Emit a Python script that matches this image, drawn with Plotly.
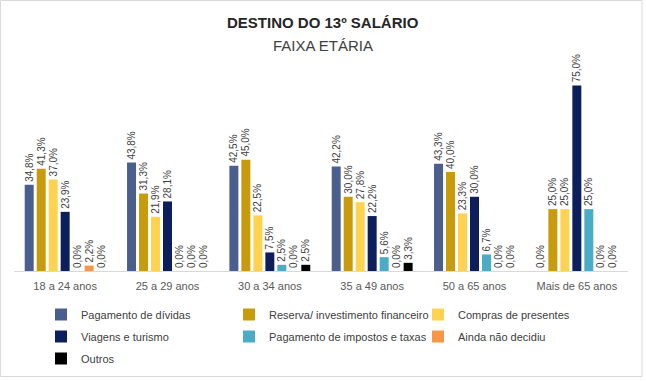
import plotly.graph_objects as go

categories = ["18 a 24 anos", "25 a 29 anos", "30 a 34 anos", "35 a 49 anos", "50 a 65 anos", "Mais de 65 anos"]
series_names = ["Pagamento de dívidas", "Reserva/ investimento financeiro", "Compras de presentes",
                "Viagens e turismo", "Pagamento de impostos e taxas", "Ainda não decidiu", "Outros"]
pagamento_dividas = [34.8, 43.8, 42.5, 42.2, 43.3, 0.0]
reserva_investimento = [41.3, 31.3, 45.0, 30.0, 40.0, 25.0]
compras_presentes = [37.0, 21.9, 22.5, 27.8, 23.3, 25.0]
viagens_turismo = [23.9, 28.1, 7.5, 22.2, 30.0, 75.0]
impostos_taxas = [0.0, 0.0, 2.5, 5.6, 6.7, 25.0]
ainda_nao_decidiu = [2.2, 0.0, 0.0, 0.0, 0.0, 0.0]
outros = [0.0, 0.0, 2.5, 3.3, 0.0, 0.0]

series_values = [pagamento_dividas, reserva_investimento, compras_presentes, viagens_turismo,
                 impostos_taxas, ainda_nao_decidiu, outros]
colors = ["#4B5F8E", "#C89B0C", "#FFD34F", "#0C1E5B", "#4BACC6", "#F79646", "#000000"]
legend_ids = ["legend", "legend2", "legend3", "legend", "legend2", "legend3", "legend"]

FONT = "Liberation Sans, Arial, sans-serif"
W, H = 646, 381
ML, MR, MT, MB = 14, 18, 73, 110
PW, PH = W - ML - MR, H - MT - MB

def px_x(x):
    return (x - ML) / PW

def px_y(y):
    return (H - MB - y) / PH

fig = go.Figure()
for i, (name, vals) in enumerate(zip(series_names, series_values)):
    fig.add_trace(go.Bar(
        x=categories, y=vals, name=name,
        marker=dict(color=colors[i], line=dict(width=0)),
        text=[f"{v:.1f}%".replace(".", ",") for v in vals],
        textposition="outside", textangle=-90, constraintext="none",
        textfont=dict(family=FONT, size=10, color="#404040"),
        cliponaxis=False, legend=legend_ids[i], legendgroup=name,
        hoverinfo="skip",
    ))

def lg(xpx):
    return dict(x=px_x(xpx), xref="paper", y=px_y(300), yref="paper",
                xanchor="left", yanchor="top", orientation="v",
                font=dict(family=FONT, size=11, color="#404040"),
                bgcolor="rgba(0,0,0,0)", borderwidth=0, itemwidth=30,
                tracegroupgap=3, traceorder="grouped")

fig.update_layout(
    width=W, height=H,
    margin=dict(l=ML, r=MR, t=MT, b=MB, autoexpand=False),
    paper_bgcolor="white", plot_bgcolor="white",
    barmode="group", bargap=0.18, bargroupgap=0.25,
    showlegend=True,
    legend=lg(41), legend2=lg(229), legend3=lg(418),
    xaxis=dict(showline=True, linecolor="#D9D9D9", linewidth=1, ticks="",
               tickfont=dict(family=FONT, size=11, color="#595959"), showgrid=False,
               ticklabelstandoff=5, automargin=False),
    yaxis=dict(range=[0, 80], visible=False, showgrid=False, zeroline=False, automargin=False),
    annotations=[
        dict(text="<b>DESTINO DO 13º SALÁRIO</b>", x=px_x(W / 2), xref="paper", y=px_y(22),
             yref="paper", showarrow=False, font=dict(family=FONT, size=15, color="#262626"),
             xanchor="center", yanchor="middle"),
        dict(text="FAIXA ETÁRIA", x=px_x(W / 2), xref="paper", y=px_y(46),
             yref="paper", showarrow=False, font=dict(family=FONT, size=15, color="#404040"),
             xanchor="center", yanchor="middle"),
    ],
    shapes=[dict(type="rect", xref="paper", yref="paper",
                 x0=px_x(0.5), x1=px_x(642), y0=px_y(376.5), y1=px_y(0.5),
                 line=dict(color="#D9D9D9", width=1), fillcolor="rgba(0,0,0,0)", layer="below")],
)

fig.write_html("out.html", config={"displayModeBar": False},
               post_script="document.body.style.margin='0';")
